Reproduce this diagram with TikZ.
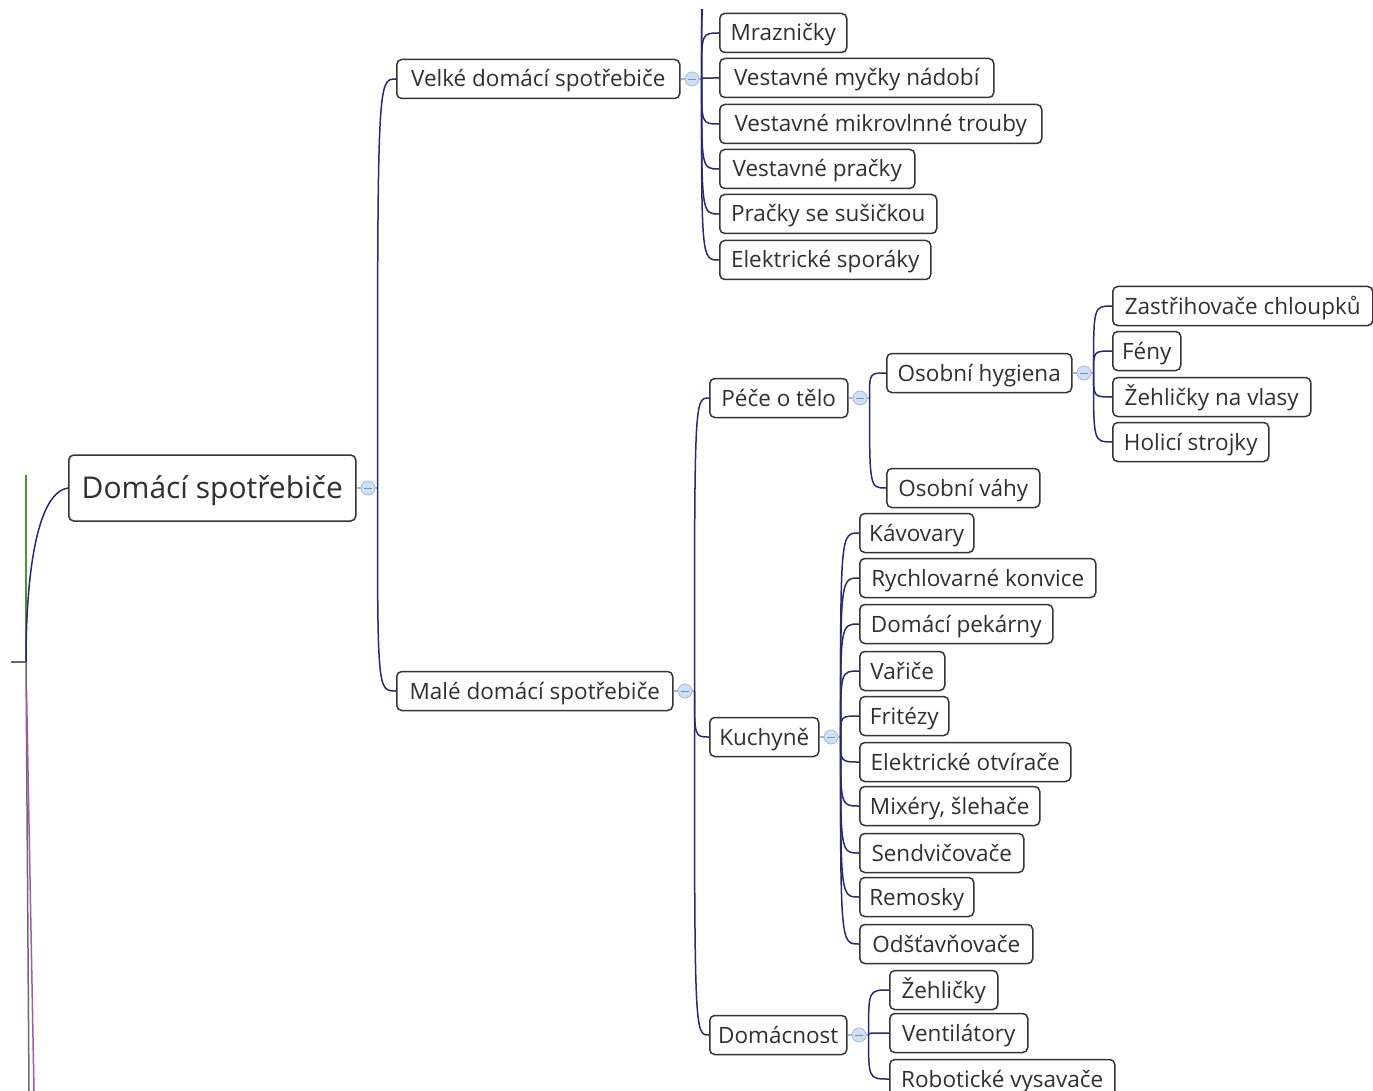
\documentclass[tikz,border=0pt]{standalone}
\usepackage{fontspec}
\setmainfont{Open Sans}
\usetikzlibrary{calc}
\definecolor{boxc}{HTML}{353535}
\definecolor{txt}{HTML}{303030}
\definecolor{linec}{HTML}{2A2A72}
\definecolor{knobfill}{HTML}{CFE0F5}
\definecolor{knobdraw}{HTML}{9DB8DE}
\definecolor{greenl}{HTML}{4C9A2A}
\definecolor{grayl}{HTML}{6A6A6A}
\definecolor{pinkl}{HTML}{A05CA8}
\tikzset{
  box/.style={draw=boxc, line width=1.5pt, rounded corners=5pt, fill=white, text=txt,
    inner sep=0pt, minimum height=39pt, anchor=west, text height=16pt, text depth=0pt,
    font=\fontsize{22.5}{26}\selectfont},
  rootbox/.style={box, minimum height=66pt, text height=21.5pt, font=\fontsize{30}{34}\selectfont},
  conn/.style={draw=linec, line width=1.5pt},
  stub/.style={draw=knobdraw, line width=1.3pt},
  knob/.style={circle, fill=knobfill, draw=knobdraw, line width=0.7pt, minimum size=14pt, inner sep=0pt},
}
% name, left, right, cy, text
\newcommand\nd[5]{\node[box, minimum width={#3pt-#2pt}] (#1) at (#2,#4) {#5};}
% parent name
\newcommand\knb[1]{%
  \coordinate (#1J) at ($(#1.east)+(21,0)$);
  \draw[stub] (#1.east) -- (#1J);
  \node[knob] (#1K) at ($(#1.east)+(11.5,0)$) {};
  \draw[draw=knobdraw!80!black, line width=0.9pt] ($(#1K)+(-4,0)$) -- ($(#1K)+(4,0)$);
}
% parent, child
\newcommand\cn[2]{\draw[conn] (#1J) .. controls (#1J |- #2.west) .. (#2.west);}
\begin{document}
\begin{tikzpicture}[x=1pt,y=-1pt]
\useasboundingbox (0,0) rectangle (1373,1091);
\fill[white] (0,0) rectangle (1373,1091);

% left edge lines
\draw[greenl, line width=1.8pt] (26,475) -- (26,662);
\draw[grayl, line width=1.2pt] (11,662) -- (26,662);
\draw[grayl, line width=1.5pt] (26,662) -- (29,1091);
\draw[pinkl, line width=1.5pt] (26.5,690) -- (34,1091);

% nodes
\node[rootbox, minimum width=287pt] (R) at (68,488) {Domácí spotřebiče};
\nd{V}{396}{679}{79}{Velké domácí spotřebiče}
\nd{M}{396}{672}{691}{Malé domácí spotřebiče}

\nd{v1}{719}{846}{33}{Mrazničky}
\nd{v2}{719}{993}{78}{Vestavné myčky nádobí}
\nd{v3}{719}{1041}{124}{Vestavné mikrovlnné trouby}
\nd{v4}{719}{914}{169}{Vestavné pračky}
\nd{v5}{719}{936}{214}{Pračky se sušičkou}
\nd{v6}{719}{930}{260}{Elektrické sporáky}

\nd{P}{709}{847}{398}{Péče o tělo}
\nd{K}{709}{818}{737}{Kuchyně}
\nd{D}{709}{846}{1035}{Domácnost}

\nd{H}{886}{1071}{373}{Osobní hygiena}
\nd{W}{886}{1039}{488}{Osobní váhy}

\nd{h1}{1112}{1372}{306}{Zastřihovače chloupků}
\nd{h2}{1112}{1180}{351}{Fény}
\nd{h3}{1112}{1310}{397}{Žehličky na vlasy}
\nd{h4}{1112}{1268}{442}{Holicí strojky}

\nd{k1}{859}{973}{533}{Kávovary}
\nd{k2}{859}{1095}{578}{Rychlovarné konvice}
\nd{k3}{859}{1052}{624}{Domácí pekárny}
\nd{k4}{859}{944}{671}{Vařiče}
\nd{k5}{859}{948}{716}{Fritézy}
\nd{k6}{859}{1070}{762}{Elektrické otvírače}
\nd{k7}{859}{1039}{806}{Mixéry, šlehače}
\nd{k8}{859}{1023}{853}{Sendvičovače}
\nd{k9}{859}{973}{897}{Remosky}
\nd{k10}{859}{1032}{944}{Odšťavňovače}

\nd{d1}{889}{997}{990}{Žehličky}
\nd{d2}{889}{1027}{1033}{Ventilátory}
\nd{d3}{889}{1114}{1079}{Robotické vysavače}

% root connector from the left
\draw[conn] (R.west) .. controls (40,492) and (26,560) .. (26,662);

% knobs
\knb{R}\knb{V}\knb{M}\knb{P}\knb{K}\knb{D}\knb{H}

% connectors
\cn{R}{V}\cn{R}{M}
\cn{V}{v1}\cn{V}{v2}\cn{V}{v3}\cn{V}{v4}\cn{V}{v5}\cn{V}{v6}
\begin{scope}
\clip (0,10) rectangle (1373,1091);
\draw[conn] (VJ) .. controls (VJ |- 0,-15) .. (719,-15);
\draw[conn] (VJ) .. controls (VJ |- 0,-60) .. (719,-60);
\end{scope}
\cn{M}{P}\cn{M}{K}\cn{M}{D}
\cn{P}{H}\cn{P}{W}
\cn{H}{h1}\cn{H}{h2}\cn{H}{h3}\cn{H}{h4}
\cn{K}{k1}\cn{K}{k2}\cn{K}{k3}\cn{K}{k4}\cn{K}{k5}\cn{K}{k6}\cn{K}{k7}\cn{K}{k8}\cn{K}{k9}\cn{K}{k10}
\cn{D}{d1}\cn{D}{d2}\cn{D}{d3}
\end{tikzpicture}
\end{document}
